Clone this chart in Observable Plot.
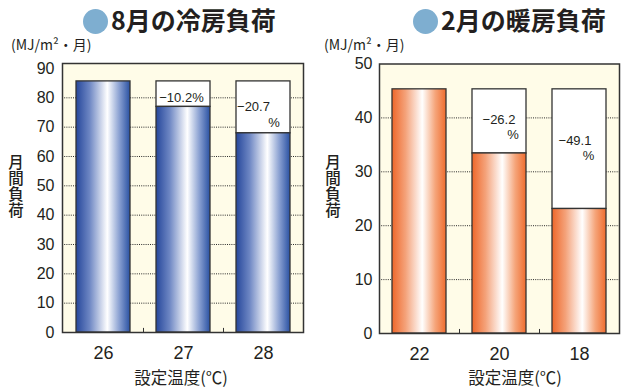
<!DOCTYPE html>
<html>
<head>
<meta charset="utf-8">
<script src="https://cdn.jsdelivr.net/npm/d3@7"></script>
<script src="https://cdn.jsdelivr.net/npm/@observablehq/plot@0.6"></script>
<style>
  html, body { margin: 0; padding: 0; background: #ffffff; }
  #wrap { position: relative; width: 633px; height: 388px; overflow: hidden; color: #231f20;
          font-family: "Liberation Sans", Arial, sans-serif; }
  .title { position: absolute; top: 0px; height: 38px; line-height: 38px; white-space: nowrap;
           font-family: "Noto Sans CJK JP", sans-serif; font-weight: 700; font-size: 25px; color: #231f20; }
  .dot { display: inline-block; width: 25px; height: 25px; border-radius: 50%; background: #7eaed0;
         vertical-align: -4px; margin-right: 3px; }
  .unit { position: absolute; top: 37px; font-size: 14px; line-height: 14px; white-space: nowrap;
          font-family: "Noto Sans CJK JP", sans-serif; }
  .ytitle { position: absolute; top: 154px; font-size: 15.5px; line-height: 18px; letter-spacing: 0.5px;
            writing-mode: vertical-rl; text-orientation: upright;
            font-family: "Noto Sans CJK JP", sans-serif; font-weight: 500; }
  .xtitle { position: absolute; top: 368px; font-size: 16.5px; line-height: 18px; white-space: nowrap; transform: translateX(-50%);
            font-family: "Noto Sans CJK JP", sans-serif; }
  .plot { position: absolute; top: 0; }
</style>
</head>
<body>
<div id="wrap">
  <div class="title" style="left:83px"><span class="dot"></span>8月の冷房負荷</div>
  <div class="title" style="left:413px"><span class="dot"></span>2月の暖房負荷</div>
  <div class="unit" style="left:11px">(MJ/m²・月)</div>
  <div class="unit" style="left:324px">(MJ/m²・月)</div>
  <div class="ytitle" style="left:7px">月間負荷</div>
  <div class="ytitle" style="left:324px">月間負荷</div>
  <div class="xtitle" style="left:181px">設定温度(℃)</div>
  <div class="xtitle" style="left:515px">設定温度(℃)</div>
  <div id="left" class="plot" style="left:0px"></div>
  <div id="right" class="plot" style="left:316px"></div>
</div>
<script>
// ---- data ----
const coolTemps = ["26", "27", "28"];
const coolLoad = [85.6, 76.9, 67.9];
const coolNote = ["", "−10.2%", "−20.7"];
const coolPct = ["", "", "%"];
const coolTicks = [0, 10, 20, 30, 40, 50, 60, 70, 80, 90];

const heatTemps = ["22", "20", "18"];
const heatLoad = [45.3, 33.4, 23.1];
const heatNote = ["", "−26.2", "−49.1"];
const heatPct = ["", "%", "%"];
const heatTicks = [0, 10, 20, 30, 40, 50];

function makeChart(cfg) {
  const rows = cfg.temps.map((t, i) => ({
    t, v: cfg.load[i], ref: cfg.load[0], note: cfg.note[i], pct: cfg.pct[i], i
  }));
  const gridTicks = cfg.ticks.filter(d => d > 0 && d < cfg.ticks[cfg.ticks.length - 1]);
  const defs = () => {
    const d = d3.create("svg:defs");
    const g = d.append("linearGradient").attr("id", cfg.gradId)
      .attr("x1", "0").attr("x2", "1").attr("y1", "0").attr("y2", "0");
    cfg.stops.forEach(([o, c]) => g.append("stop").attr("offset", o).attr("stop-color", c));
    return d.node();
  };
  const marks = [
    defs,
    Plot.frame({fill: "#fffce8", stroke: "none"}),
    Plot.ruleY(gridTicks, {stroke: "#2a2a2a", strokeWidth: 1, strokeDasharray: "1,1.2"}),
    Plot.barY(rows.filter(r => r.i > 0), {x: "t", y1: "v", y2: "ref", fill: "#ffffff", stroke: "#333", strokeWidth: 1.3}),
    Plot.barY(rows, {x: "t", y: "v", fill: `url(#${cfg.gradId})`, stroke: "#333", strokeWidth: 1.3}),
    Plot.ruleX(cfg.temps.slice(1), {x: d => d, dx: -cfg.step / 2, y1: 0, y2: cfg.tickLen, stroke: "#333", strokeWidth: 1}),
    Plot.frame({stroke: "#333", strokeWidth: 1.5}),
    Plot.axisX({tickSize: 0, tickPadding: 14, fontSize: 18, label: null}),
    Plot.axisY({ticks: cfg.ticks, tickSize: 0, tickPadding: cfg.yPad, fontSize: 16, label: null})
  ];
  cfg.notes.forEach(n => {
    marks.push(Plot.text(rows.filter(r => r.i === n.i), {
      x: "t", y: "ref", text: n.key, dx: n.dx, dy: n.dy, fontSize: 13, fill: "#231f20"
    }));
  });
  return Plot.plot({
    width: cfg.width, height: 388,
    marginTop: cfg.mTop, marginBottom: cfg.mBottom, marginLeft: cfg.mLeft, marginRight: cfg.mRight,
    style: {fontFamily: "'Liberation Sans', Arial, sans-serif", color: "#231f20", background: "transparent", overflow: "visible"},
    x: {domain: cfg.temps, paddingInner: 0.325, paddingOuter: 0.1625},
    y: {domain: [0, cfg.yMax]},
    marks
  });
}

document.getElementById("left").appendChild(makeChart({
  temps: coolTemps, load: coolLoad, note: coolNote, pct: coolPct, ticks: coolTicks, yMax: 91.7,
  gradId: "gradBlue",
  stops: [["0%", "#26479b"], ["25%", "#6d86c3"], ["58%", "#ffffff"], ["80%", "#8ba1d2"], ["100%", "#2a51a2"]],
  width: 316, mTop: 63, mBottom: 56, mLeft: 62, mRight: 13, step: 80, tickLen: 1.4, yPad: 8,
  notes: [
    {i: 1, key: "note", dx: -2, dy: 16},
    {i: 2, key: "note", dx: -10, dy: 25},
    {i: 2, key: "pct", dx: 10.5, dy: 41}
  ]
}));

document.getElementById("right").appendChild(makeChart({
  temps: heatTemps, load: heatLoad, note: heatNote, pct: heatPct, ticks: heatTicks, yMax: 50,
  gradId: "gradOrange",
  stops: [["0%", "#ee672a"], ["25%", "#f4a27a"], ["56%", "#ffffff"], ["80%", "#f5a57a"], ["100%", "#ef6c2e"]],
  width: 317, mTop: 63.5, mBottom: 55, mLeft: 63, mRight: 14, step: 80, tickLen: 0.75, yPad: 7,
  notes: [
    {i: 1, key: "note", dx: -0.5, dy: 30},
    {i: 1, key: "pct", dx: 13.5, dy: 45},
    {i: 2, key: "note", dx: -4.5, dy: 51},
    {i: 2, key: "pct", dx: 9, dy: 66}
  ]
}));
</script>
</body>
</html>
